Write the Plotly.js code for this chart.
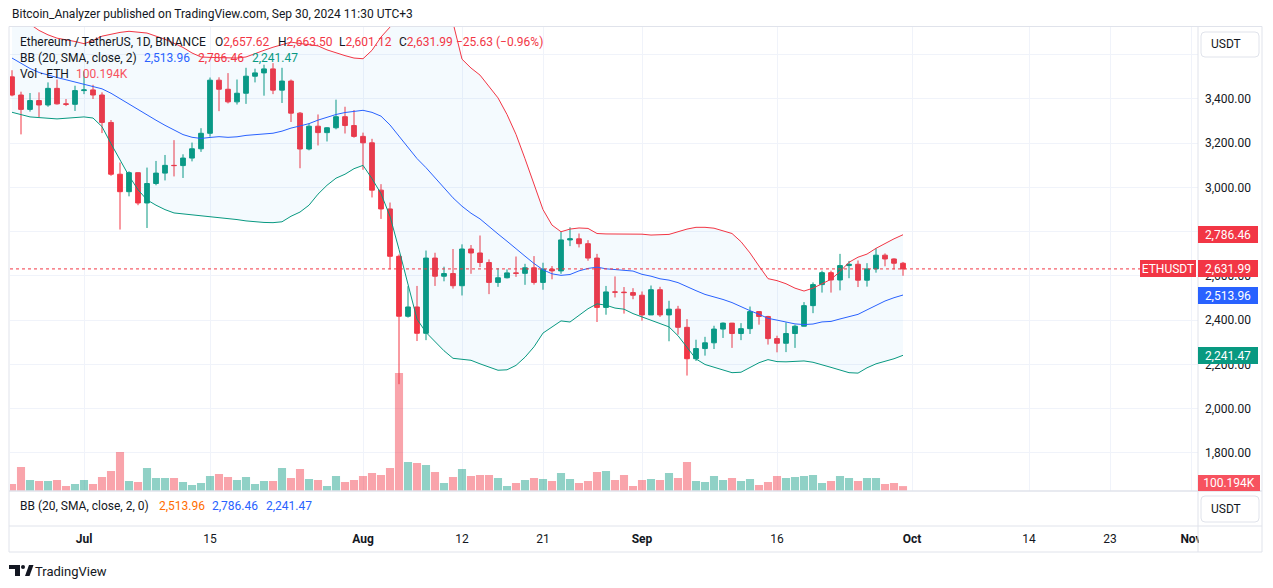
<!DOCTYPE html>
<html>
<head>
<meta charset="utf-8">
<script src="https://cdn.plot.ly/plotly-3.0.1.min.js"></script>
<style>
html,body{margin:0;padding:0;background:#ffffff;}
#chart{width:1273px;height:588px;}
</style>
</head>
<body>
<div id="chart"></div>
<script>
// ---------------- DATA (ETH/USDT 1D, Binance) ----------------
const dates = [
'2024-06-23','2024-06-24','2024-06-25','2024-06-26','2024-06-27','2024-06-28','2024-06-29','2024-06-30',
'2024-07-01','2024-07-02','2024-07-03','2024-07-04','2024-07-05','2024-07-06','2024-07-07','2024-07-08','2024-07-09','2024-07-10',
'2024-07-11','2024-07-12','2024-07-13','2024-07-14','2024-07-15','2024-07-16','2024-07-17','2024-07-18','2024-07-19','2024-07-20',
'2024-07-21','2024-07-22','2024-07-23','2024-07-24','2024-07-25','2024-07-26','2024-07-27','2024-07-28','2024-07-29','2024-07-30','2024-07-31',
'2024-08-01','2024-08-02','2024-08-03','2024-08-04','2024-08-05','2024-08-06','2024-08-07','2024-08-08','2024-08-09','2024-08-10',
'2024-08-11','2024-08-12','2024-08-13','2024-08-14','2024-08-15','2024-08-16','2024-08-17','2024-08-18','2024-08-19','2024-08-20',
'2024-08-21','2024-08-22','2024-08-23','2024-08-24','2024-08-25','2024-08-26','2024-08-27','2024-08-28','2024-08-29','2024-08-30','2024-08-31',
'2024-09-01','2024-09-02','2024-09-03','2024-09-04','2024-09-05','2024-09-06','2024-09-07','2024-09-08','2024-09-09','2024-09-10',
'2024-09-11','2024-09-12','2024-09-13','2024-09-14','2024-09-15','2024-09-16','2024-09-17','2024-09-18','2024-09-19','2024-09-20',
'2024-09-21','2024-09-22','2024-09-23','2024-09-24','2024-09-25','2024-09-26','2024-09-27','2024-09-28','2024-09-29','2024-09-30'];

const openP = [3500,3418,3353,3393,3373,3448,3378,3376,
3438,3441,3418,3294,3060,2981,3067,2930,3018,3065,3100,3099,3133,3175,3245,3485,3444,3387,3426,3503,3518,3536,3440,3481,3336,3174,3277,3248,3270,3320,3280,
3231,3202,2988,2903,2689,2418,2460,2341,2681,2599,2611,2556,2722,2704,2661,2571,2592,2614,2612,2637,2571,2631,2623,2763,2768,2746,2681,2458,2528,2527,2525,
2513,2424,2538,2424,2450,2368,2226,2272,2298,2360,2387,2340,2362,2439,2417,2317,2296,2340,2373,2466,2561,2615,2582,2647,2653,2581,2632,2694,2677,2657.62];

const highP = [3530,3433,3427,3430,3475,3488,3400,3460,
3525,3464,3430,3305,3113,3073,3068,3090,3120,3147,3214,3150,3203,3268,3497,3498,3517,3488,3541,3537,3555,3562,3541,3488,3341,3289,3330,3273,3397,3365,3350,
3248,3220,3015,2932,2697,2554,2555,2715,2705,2642,2722,2743,2740,2783,2675,2635,2630,2688,2655,2690,2660,2645,2800,2820,2792,2762,2700,2555,2598,2550,2545,
2530,2557,2551,2488,2465,2405,2312,2325,2375,2390,2388,2387,2462,2440,2420,2330,2390,2380,2482,2571,2624,2624,2700,2668,2670,2658,2725,2702,2680,2663.50];

const lowP = [3412,3240,3343,3318,3365,3375,3368,3346,
3422,3400,3246,3053,2810,2960,2920,2817,3010,3032,3050,3043,3118,3161,3230,3345,3380,3375,3378,3475,3415,3422,3382,3296,3087,3168,3190,3208,3263,3244,3225,
3080,2955,2858,2630,2111,2412,2306,2310,2555,2576,2543,2512,2610,2640,2518,2551,2589,2596,2560,2561,2538,2585,2610,2735,2729,2669,2392,2425,2503,2430,2495,
2398,2424,2415,2305,2335,2150,2216,2240,2270,2320,2275,2310,2338,2380,2290,2255,2256,2275,2372,2432,2525,2525,2535,2590,2550,2552,2615,2644,2630,2601.12];

const closeP = [3418,3353,3393,3373,3448,3378,3376,3438,
3441,3418,3294,3060,2981,3067,2930,3018,3065,3100,3099,3133,3175,3245,3485,3444,3387,3426,3503,3518,3536,3440,3481,3336,3174,3277,3248,3270,3320,3280,3231,
3202,2988,2903,2689,2418,2460,2341,2681,2599,2611,2556,2722,2704,2661,2571,2592,2614,2612,2637,2571,2631,2623,2763,2768,2746,2681,2458,2528,2527,2525,2513,
2424,2538,2424,2450,2368,2226,2272,2298,2360,2387,2340,2362,2439,2417,2317,2296,2340,2373,2466,2561,2615,2582,2647,2653,2581,2632,2694,2677,2657.62,2631.99];

// volume, thousands of ETH
const volumeK = [143,490,224,204,204,224,102,143,
224,143,286,408,796,204,184,469,265,265,265,184,122,163,306,347,286,224,286,143,204,204,469,265,449,245,224,102,306,184,224,
306,367,326,469,2407,592,571,530,388,163,286,449,306,326,326,265,102,163,224,265,245,204,367,245,163,204,388,408,224,326,102,
224,245,224,367,265,592,204,184,306,224,265,204,245,122,184,306,265,286,306,326,163,204,306,265,204,265,265,143,163,100.194];

// Bollinger Bands (20, SMA, close, 2)
const bbUpper = [3780,3760,3738,3710,3690,3675,3668,3660,
3650,3664,3684,3694,3701,3706,3703,3698,3684,3670,3652,3633,3608,3590,3588,3587,3586,3585,3590,3606,3620,3634,3647,3657,3651,3646,3640,3622,3608,3596,3585,
3582,3620,3680,3725,3790,3840,3864,3870,3850,3800,3745,3580,3540,3508,3455,3405,3330,3240,3130,3010,2900,2830,2800,2812,2817,2815,2792,2790,2790,2790,2790,
2789,2785,2786,2788,2800,2812,2820,2820,2816,2805,2792,2755,2704,2645,2588,2579,2565,2545,2532,2545,2565,2585,2620,2662,2685,2699,2725,2748,2768,2786.46];

const bbBasis = [3585,3560,3538,3520,3507,3497,3487,3477,
3467,3457,3446,3426,3401,3376,3351,3327,3304,3281,3259,3239.15,3227.0,3221.6,3226.2,3229.75,3226.7,3229.1,3235.45,3239.45,3244.2,3245.3,3254.65,3268.45,3278.1,3288.6,3304.5,3317.1,3329.85,3338.85,3345.45,
3348.9,3339.55,3322.45,3282.65,3231.35,3185,3130.75,3089.65,3043.7,2997.45,2953.25,2915.3,2883.7,2858.05,2822.75,2789.95,2757.15,2721.75,2689.6,2656.6,2628.05,2609.8,2602.8,2606.75,2623.15,2634.2,2640.05,2632.4,2628.8,2624.5,2622.35,
2607.45,2599.15,2587.3,2581.25,2570.05,2550.65,2533.65,2516.7,2506.15,2493.95,2479.8,2459.75,2443.3,2426.85,2408.65,2400.55,2391.15,2383.45,2380.5,2382.9,2392.45,2394.65,2405.8,2415.95,2426.6,2446.9,2468,2486.95,2501.83,2513.96];

const bbLower = [3340,3328,3319,3316,3313,3310,3313,3316,
3319,3314,3275,3198,3122,3052,2990,2944,2920,2900,2885,2881,2877,2873,2869,2866,2860,2855,2849,2844,2842,2841,2845,2870,2889,2920,2970,3010,3042,3060,3085,
3100,3040,2972,2870,2720,2560,2405,2345,2305,2262,2228,2224,2219,2203,2188,2174,2176,2196,2233,2280,2342,2370,2397,2392,2420,2452,2474,2468,2455,2450,2430,
2415,2400,2388,2370,2330,2275,2225,2200,2187,2175,2163,2165,2185,2208,2222,2213,2212,2215,2216,2210,2200,2187,2175,2163,2161,2185,2203,2214,2226,2241.47];

const tickDates = ['2024-07-01','2024-07-15','2024-08-01','2024-08-12','2024-08-21','2024-09-01','2024-09-16','2024-10-01','2024-10-14','2024-10-23','2024-11-01'];
const tickLabels = ['<b>Jul</b>','15','<b>Aug</b>','12','21','<b>Sep</b>','16','<b>Oct</b>','14','23','<b>Nov</b>'];

// price scale ticks (labels hidden where the reference covers them)
const priceTicks = [1800,2000,2200,2400,2600,2800,3000,3200,3400,3600];
const priceTickText = ['1,800.00','2,000.00','2,200.00','2,400.00','2,600.00','','3,000.00','3,200.00','3,400.00',''];

// ---------------- STYLE / GEOMETRY ----------------
const UP = '#089981', DOWN = '#F23645', BLUE = '#2962FF', ORANGE = '#FF6D00', TXT = '#131722', VOLRED = '#F7525F';
const FONT = 'Roboto, "Open Sans", "Noto Sans", sans-serif';
const PL = 10, PR = 1198, PT = 27, PB = 526, MAINB = 491;
const X = px => (px - PL) / (PR - PL);
const Y = py => (PB - py) / (PB - PT);
const mainH = MAINB - PT;          // px of main pane
const kPerPx = 20.4;               // volume scale
const priceTop = 3725.4, priceBot = 1628.2;

function fmt(v){
  const s = Math.abs(v).toFixed(2).split('.');
  return (v < 0 ? '\u2212' : '') + s[0].replace(/\B(?=(\d{3})+(?!\d))/g, ',') + '.' + s[1];
}
const n = closeP.length;
const last = n - 1;
const chg = closeP[last] - closeP[last - 1];
const pct = chg / closeP[last - 1] * 100;
const volLabel = volumeK[last].toFixed(3) + 'K';

const volColors = closeP.map((c, i) => c >= openP[i] ? 'rgba(8,153,129,0.45)' : 'rgba(242,54,69,0.45)');

const traces = [
  {type:'bar', x:dates, y:volumeK, xaxis:'x', yaxis:'y', marker:{color:volColors, line:{width:0}}, hoverinfo:'skip'},
  {type:'scatter', mode:'lines', x:dates, y:bbUpper, xaxis:'x', yaxis:'y2', line:{color:DOWN, width:1}, hoverinfo:'skip'},
  {type:'scatter', mode:'lines', x:dates, y:bbLower, xaxis:'x', yaxis:'y2', line:{color:UP, width:1}, fill:'tonexty', fillcolor:'rgba(33,150,243,0.05)', hoverinfo:'skip'},
  {type:'scatter', mode:'lines', x:dates, y:bbBasis, xaxis:'x', yaxis:'y2', line:{color:BLUE, width:1}, hoverinfo:'skip'},
  {type:'candlestick', x:dates, open:openP, high:highP, low:lowP, close:closeP, xaxis:'x', yaxis:'y2',
   increasing:{line:{color:UP, width:1}, fillcolor:UP},
   decreasing:{line:{color:DOWN, width:1}, fillcolor:DOWN},
   whiskerwidth:0, hoverinfo:'skip'}
];

function ann(px, py, text, size, color, extra){
  return Object.assign({xref:'paper', yref:'paper', x:X(px), y:Y(py), xanchor:'left', yanchor:'middle',
    text:text, showarrow:false, font:{family:FONT, size:size||12, color:color||TXT}}, extra||{});
}
function red(t){return '<span style="color:'+DOWN+'">'+t+'</span>';}

function priceLabel(price, text, bg){
  return {xref:'paper', yref:'y2', x:1, y:price, xanchor:'left', yanchor:'middle', text:text, showarrow:false,
    bgcolor:bg, borderpad:2, borderwidth:0, width:56, height:13, align:'center',
    font:{family:FONT, size:12, color:'#ffffff'}};
}
function roundBox(cx, cy, w, h, r){
  const a = w/2, b = h/2;
  return {type:'path', xref:'paper', yref:'paper', xsizemode:'pixel', ysizemode:'pixel', xanchor:X(cx), yanchor:Y(cy),
    path:`M${-a+r},${-b} L${a-r},${-b} Q${a},${-b} ${a},${-b+r} L${a},${b-r} Q${a},${b} ${a-r},${b} L${-a+r},${b} Q${-a},${b} ${-a},${b-r} L${-a},${-b+r} Q${-a},${-b} ${-a+r},${-b} Z`,
    fillcolor:'#ffffff', line:{color:'#E0E3EB', width:1}, layer:'above'};
}
const BORDER = '#E0E3EB';
const shapes = [
  {type:'rect', xref:'paper', yref:'paper', x0:X(1199), x1:X(1261), y0:Y(551), y1:Y(527), fillcolor:'#ffffff', line:{width:0}, layer:'above'},
  {type:'line', xref:'paper', yref:'y2', x0:0, x1:X(1140), y0:closeP[last], y1:closeP[last], line:{color:DOWN, width:1, dash:'dot'}, layer:'above'},
  {type:'rect', xref:'paper', yref:'paper', x0:X(9), x1:X(1262), y0:Y(552), y1:Y(26.5), line:{color:BORDER, width:1}, layer:'above'},
  {type:'line', xref:'paper', yref:'paper', x0:X(9), x1:X(1262), y0:Y(491), y1:Y(491), line:{color:BORDER, width:1.5}, layer:'above'},
  {type:'line', xref:'paper', yref:'paper', x0:X(9), x1:X(1262), y0:Y(526), y1:Y(526), line:{color:BORDER, width:1}, layer:'above'},
  {type:'line', xref:'paper', yref:'paper', x0:1, x1:1, y0:Y(552), y1:Y(26.5), line:{color:BORDER, width:1}, layer:'above'},
  roundBox(1230, 44.5, 58, 25, 4),
  roundBox(1230, 509, 58, 26, 4),
  // TradingView logo
  {type:'path', xref:'paper', yref:'paper', xsizemode:'pixel', ysizemode:'pixel', xanchor:X(20), yanchor:Y(570),
   path:'M-11,5 L0,5 L0,-6 L-5,-6 L-5,1 L-11,1 Z', fillcolor:TXT, line:{width:0}},
  {type:'circle', xref:'paper', yref:'paper', xsizemode:'pixel', ysizemode:'pixel', xanchor:X(20), yanchor:Y(570),
   x0:1, x1:5, y0:1, y1:5, fillcolor:TXT, line:{width:0}},
  {type:'path', xref:'paper', yref:'paper', xsizemode:'pixel', ysizemode:'pixel', xanchor:X(20), yanchor:Y(570),
   path:'M5,-6 L9,5 L13.5,5 L9.5,-6 Z', fillcolor:TXT, line:{width:0}}
];

const annotations = [
  ann(10, 14, 'Bitcoin_Analyzer published on TradingView.com, Sep 30, 2024 11:30 UTC+3', 12, TXT),
  ann(18, 42, 'Ethereum / TetherUS, 1D, BINANCE', 12, TXT),
  ann(213, 42, 'O' + red(fmt(openP[last])), 12, TXT),
  ann(276, 42, 'H' + red(fmt(highP[last])), 12, TXT),
  ann(337, 42, 'L' + red(fmt(lowP[last])), 12, TXT),
  ann(397, 42, 'C' + red(fmt(closeP[last])), 12, TXT),
  ann(454, 42, red(fmt(chg) + ' (' + fmt(pct) + '%)'), 12, TXT),
  ann(18, 58, 'BB (20, SMA, close, 2)', 12, TXT),
  ann(142, 58, fmt(bbBasis[last]), 12, BLUE),
  ann(196, 58, fmt(bbUpper[last]), 12, DOWN),
  ann(250, 58, fmt(bbLower[last]), 12, UP),
  ann(18, 74, 'Vol \u00b7 ETH', 12, TXT),
  ann(74, 74, volLabel, 12, VOLRED),
  ann(18, 506, 'BB (20, SMA, close, 2, 0)', 12, TXT),
  ann(157, 506, fmt(bbBasis[last]), 12, ORANGE),
  ann(210, 506, fmt(bbUpper[last]), 12, BLUE),
  ann(264, 506, fmt(bbLower[last]), 12, BLUE),
  ann(1209, 44.5, 'USDT', 12, TXT),
  ann(1209, 509, 'USDT', 12, TXT),
  ann(33, 571, 'TradingView', 13, TXT),
  priceLabel(bbUpper[last], fmt(bbUpper[last]), DOWN),
  priceLabel(closeP[last], fmt(closeP[last]), DOWN),
  priceLabel(bbBasis[last], fmt(bbBasis[last]), BLUE),
  priceLabel(bbLower[last], fmt(bbLower[last]), UP),
  {xref:'paper', yref:'y2', x:X(1140), y:closeP[last], xanchor:'left', yanchor:'middle', text:'ETHUSDT', showarrow:false,
   bgcolor:DOWN, borderpad:2, borderwidth:0, width:52, height:13, align:'center', font:{family:FONT, size:12, color:'#ffffff'}},
  {xref:'paper', yref:'paper', x:1, y:Y(483), xanchor:'left', yanchor:'middle', text:volLabel, showarrow:false,
   bgcolor:VOLRED, borderpad:2, borderwidth:0, width:58, height:12, align:'center', font:{family:FONT, size:12, color:'#ffffff'}}
];

const layout = {
  width:1273, height:588,
  margin:{l:PL, r:1273-PR, t:PT, b:588-PB, pad:0},
  paper_bgcolor:'#ffffff', plot_bgcolor:'rgba(0,0,0,0)',
  showlegend:false, hovermode:false, dragmode:false,
  font:{family:FONT, size:12, color:TXT},
  bargap:0.1, boxgap:0.25,
  xaxis:{type:'date', range:['2024-06-22 18:40','2024-11-01 18:40'], anchor:'free', position:0,
    tickmode:'array', tickvals:tickDates, ticktext:tickLabels, ticks:'', ticklabelstandoff:4,
    showgrid:true, gridcolor:'#F0F3FA', gridwidth:1, zeroline:false, showline:false,
    tickfont:{family:FONT, size:12, color:TXT}, rangeslider:{visible:false}, fixedrange:true},
  yaxis:{domain:[Y(MAINB), 1], range:[0, mainH * kPerPx], visible:false, fixedrange:true},
  yaxis2:{overlaying:'y', side:'right', anchor:'x', range:[priceBot, priceTop],
    tickmode:'array', tickvals:priceTicks, ticktext:priceTickText, ticks:'', ticklabelstandoff:6,
    showgrid:true, gridcolor:'#F0F3FA', gridwidth:1,
    zeroline:false, showline:false, tickfont:{family:FONT, size:12, color:TXT}, fixedrange:true},
  shapes:shapes,
  annotations:annotations
};

Plotly.newPlot('chart', traces, layout, {staticPlot:true, displayModeBar:false});
</script>
</body>
</html>
